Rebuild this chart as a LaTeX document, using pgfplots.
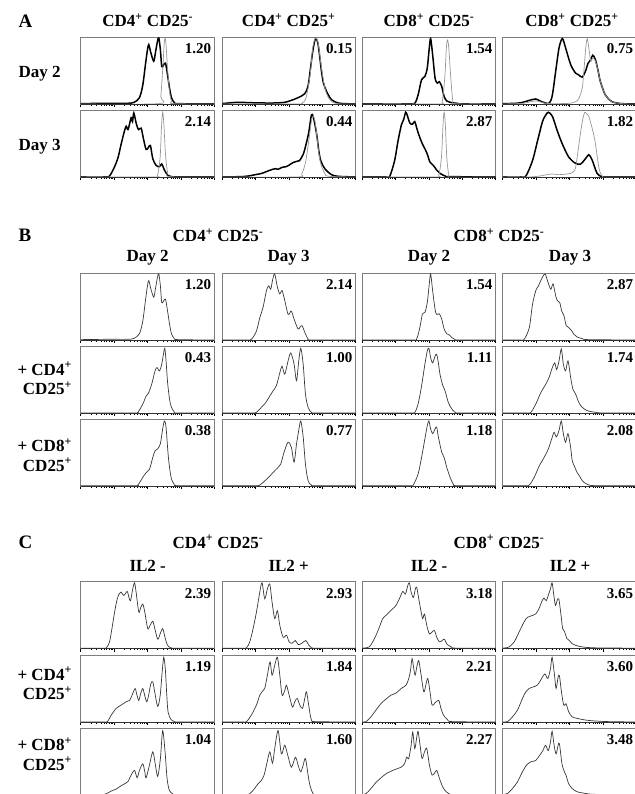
\documentclass[border=0pt]{standalone}
\usepackage{fontspec}
\setmainfont{Liberation Serif}
\usepackage{pgfplots}
\pgfplotsset{compat=1.18}

\definecolor{framegray}{RGB}{125,125,125}
\definecolor{ctlgray}{RGB}{150,150,150}
\definecolor{thingray}{RGB}{55,55,55}

\newcommand{\su}[1]{\textsuperscript{#1}}
\newcommand{\val}[1]{\node[val, anchor=base east, xshift=-3pt, yshift=-16.5pt] at (rel axis cs:1,1) {#1};}

\tikzset{
  lab/.style={font=\fontsize{17}{19.5}\selectfont\bfseries, inner sep=0pt},
  let/.style={font=\fontsize{19}{19}\selectfont\bfseries, inner sep=0pt},
  val/.style={font=\fontsize{15}{15}\selectfont\bfseries, inner sep=0pt},
}

\pgfplotsset{
  hist/.style={
    anchor=north west, scale only axis,
    width=133.5pt, height=67pt,
    xmin=0, xmax=100, ymin=0, ymax=101,
    ytick=\empty,
    xtick={0,25,50,75,100},
    minor xtick={7.53,11.93,15.05,17.47,19.45,21.13,22.58,23.86,
                 32.53,36.93,40.05,42.47,44.45,46.13,47.58,48.86,
                 57.53,61.93,65.05,67.47,69.45,71.13,72.58,73.86,
                 82.53,86.93,90.05,92.47,94.45,96.13,97.58,98.86},
    xticklabels={}, xtick pos=left, tick align=outside,
    major tick length=3pt, minor tick length=1.5pt,
    tick style={black, line width=0.5pt},
    axis line style={framegray, line width=1pt},
    after end axis/.code={\draw[black!80, line width=0.8pt] (rel axis cs:0,0) -- (rel axis cs:1,0);},
  },
  trt/.style={black, line width=1.5pt, smooth, tension=0.5, no marks},
  ctl/.style={ctlgray, line width=0.7pt, smooth, tension=0.5, no marks},
  one/.style={thingray, line width=0.7pt, smooth, tension=0.5, no marks},
}

\begin{document}
\begin{tikzpicture}

% ---------------- panel A ----------------
\node[let, anchor=base west] at (18.3pt,-27.3pt) {A};
\node[lab, anchor=base] at (147.7pt,-26.7pt) {CD4\su{+} CD25\su{-}};
\node[lab, anchor=base] at (288.7pt,-26.7pt) {CD4\su{+} CD25\su{+}};
\node[lab, anchor=base] at (429pt,-26.7pt) {CD8\su{+} CD25\su{-}};
\node[lab, anchor=base] at (572pt,-26.7pt) {CD8\su{+} CD25\su{+}};
\node[lab, anchor=base west] at (18.3pt,-77.3pt) {Day 2};
\node[lab, anchor=base west] at (18.3pt,-151pt) {Day 3};

% day 2
\begin{axis}[hist, at={(80.7pt,-37.3pt)}]
\addplot[trt] coordinates {(0,1) (20,1.5) (35,1.5) (40,3) (44,10) (46.5,29) (48.5,60) (50,82) (51,90) (52.5,78) (54.7,65) (56,78) (57.5,95) (58.5,100) (59.7,82) (60.7,57) (62,59) (63.5,62) (65,45) (66.5,25) (68,10) (70,3) (73,1) (100,0.5)};
\addplot[ctl] coordinates {(0,0.5) (58.5,1) (60,12) (61.5,55) (62.5,90) (63.2,100) (64,88) (65,55) (66.5,20) (68,4) (69.5,1) (100,0.5)};
\val{1.20}
\end{axis}
\begin{axis}[hist, at={(222pt,-37.3pt)}]
\addplot[trt] coordinates {(0,1) (5,2) (12,3) (20,2.5) (30,2) (40,2) (47,3) (52,6) (57,10) (62,16) (64.5,28) (66,50) (68,80) (70,99) (72,90) (74.5,50) (76,32) (78.4,19) (82,7) (87,2) (92,1) (100,0.5)};
\addplot[ctl] coordinates {(0,0.5) (55,0.5) (60,2) (63,10) (66,45) (68,85) (70,100) (72,92) (74.5,55) (77,25) (80,9) (84,2) (90,0.5) (100,0.5)};
\val{0.15}
\end{axis}
\begin{axis}[hist, at={(362pt,-37.3pt)}]
\addplot[trt] coordinates {(0,0.5) (35,0.5) (39.5,1.5) (42,14) (44.6,37) (47.1,42) (48.9,55) (50.4,85) (51.4,99) (52.9,75) (54.7,40) (56.4,32) (57.9,34) (59.7,27) (61.5,12) (63.5,5) (67.3,2.5) (71,1.5) (76,0.5) (100,0.5)};
\addplot[ctl] coordinates {(0,0.5) (58,0.5) (60,3) (62,40) (63.2,85) (64,97) (65,85) (66.5,40) (68,6) (70,1) (100,0.5)};
\val{1.54}
\end{axis}
\begin{axis}[hist, at={(502.7pt,-37.3pt)}]
\addplot[trt] coordinates {(0,1) (10,1.5) (15,3) (20,6) (24.8,8) (28,5) (32,2) (35,2) (37.2,14) (39.7,50) (42.2,85) (44.7,99) (47.1,85) (50.9,60) (54.6,47) (57.1,44) (59.6,41) (62,50) (64,62) (65.8,67) (67.5,74) (69.5,67) (71.5,50) (73.2,34) (76.9,14) (81.9,4) (89.3,1) (100,0.5)};
\addplot[ctl] coordinates {(0,0.5) (15,1.5) (24.8,5) (32,1.5) (40,1) (50,1.5) (54.6,4) (57.1,9) (59.6,25) (61,55) (62.2,85) (63.3,99) (64.5,85) (66,65) (67.5,70) (69.5,65) (71.5,50) (73.2,34) (76.9,14) (81.9,4) (89.3,1) (100,0.5)};
\val{0.75}
\end{axis}

% day 3
\begin{axis}[hist, at={(80.7pt,-110.3pt)}]
\addplot[trt] coordinates {(0,0.5) (18,0.5) (21.6,2) (25.4,16) (28,30) (30.3,50) (32.8,70) (34.1,77) (35.5,72) (37.8,90) (38.8,84) (39.8,97) (41.5,82) (43.3,72) (45.3,74) (47,58) (49,42) (50.7,45) (52.2,48) (54,28) (56.5,18) (59,16) (60.7,20) (62.7,11) (65.2,3) (67.7,1) (75,0.5) (100,0.5)};
\addplot[ctl] coordinates {(0,0.5) (55,0.5) (57.5,3) (59.5,30) (60.5,75) (61.4,98) (62.3,80) (63.5,35) (65,8) (67,1) (100,0.5)};
\val{2.14}
\end{axis}
\begin{axis}[hist, at={(222pt,-110.3pt)}]
\addplot[trt] coordinates {(0,0.5) (14,1) (20,2) (25,4) (30,6) (35,10) (39.8,13) (42,12) (45,15) (48,16) (50,18) (53,22) (56,24) (58,25) (60.9,35) (63,50) (65,68) (67,94) (68.5,90) (70.9,65) (72.5,40) (74,25) (77,13) (82,4) (87,1.5) (100,0.5)};
\addplot[ctl] coordinates {(0,0.5) (56,0.5) (59.7,5) (62.5,22) (65,55) (67,85) (68.4,92) (70,80) (72,45) (74,20) (77,6) (80,1.5) (100,0.5)};
\val{0.44}
\end{axis}
\begin{axis}[hist, at={(362pt,-110.3pt)}]
\addplot[trt] coordinates {(0,0.5) (18,0.5) (20.7,1) (24.4,25) (27,55) (29.5,79) (31.2,87) (32.7,98) (33.8,94) (35.8,82) (37.8,80) (39.5,84) (41.3,72) (43.3,60) (45.3,50) (47.1,43) (48.9,35) (50.9,23) (53.4,18) (55.9,11) (58.4,6) (62.2,2) (66,1) (100,0.5)};
\addplot[ctl] coordinates {(0,0.5) (55,0.5) (57.5,3) (59.5,30) (60.7,80) (61.5,98) (62.4,80) (63.5,30) (65,4) (67,0.5) (100,0.5)};
\val{2.87}
\end{axis}
\begin{axis}[hist, at={(502.7pt,-110.3pt)}]
\addplot[trt] coordinates {(0,0.5) (14,0.5) (17.4,2) (22.3,25) (26.1,55) (29.8,84) (32.3,94) (34.2,98) (37.2,92) (40.9,70) (44.7,50) (49.6,30) (54.6,21) (58.3,20) (62,28) (64.5,34) (67,26) (70.7,6) (74.4,1) (80,0.5) (100,0.5)};
\addplot[ctl] coordinates {(0,0.5) (20,0.5) (28,2) (33,4) (37.2,5) (42,4) (48,5) (52.1,7) (54.6,15) (57.1,50) (59.6,84) (61.5,98) (63,95) (64.5,92) (67.5,70) (69.5,50) (72,15) (74.4,2) (78,0.5) (100,0.5)};
\val{1.82}
\end{axis}

% ---------------- panel B ----------------
\node[let, anchor=base west] at (18.3pt,-241.7pt) {B};
\node[lab, anchor=base] at (218pt,-241.7pt) {CD4\su{+} CD25\su{-}};
\node[lab, anchor=base] at (499pt,-241.7pt) {CD8\su{+} CD25\su{-}};
\node[lab, anchor=base] at (147.7pt,-261pt) {Day 2};
\node[lab, anchor=base] at (288.7pt,-261pt) {Day 3};
\node[lab, anchor=base] at (429pt,-261pt) {Day 2};
\node[lab, anchor=base] at (570pt,-261pt) {Day 3};
\node[lab, align=right, anchor=east] at (72pt,-378.5pt) {+ CD4\su{+}\\CD25\su{+}};
\node[lab, align=right, anchor=east] at (72pt,-455pt) {+ CD8\su{+}\\CD25\su{+}};

% row 1
\begin{axis}[hist, at={(80.7pt,-273.3pt)}]
\addplot[one] coordinates {(0,1) (20,1.5) (35,1.5) (40,3) (44,10) (46.5,29) (48.5,60) (50,82) (51,90) (52.5,78) (54.7,65) (56,78) (57.5,95) (58.5,100) (59.7,82) (60.7,57) (62,59) (63.5,62) (65,45) (66.5,25) (68,10) (70,3) (73,1) (100,0.5)};
\val{1.20}
\end{axis}
\begin{axis}[hist, at={(222pt,-273.3pt)}]
\addplot[one] coordinates {(0,0.5) (18,0.5) (22,1.5) (25.8,14) (28.3,34) (30.8,50) (33.3,75) (35,82) (36.5,77) (38,92) (39.5,100) (41.5,80) (43.3,70) (45,75) (47,60) (49.5,39) (51,42) (52,44) (54.5,29) (57,17) (58.5,20) (60,22) (62,12) (64.5,2) (67,0.5) (100,0.5)};
\val{2.14}
\end{axis}
\begin{axis}[hist, at={(362pt,-273.3pt)}]
\addplot[one] coordinates {(0,0.5) (37,0.5) (40.8,1.5) (43.3,19) (45.3,40) (47.1,42) (48.9,57) (50.4,85) (51.4,100) (52.9,75) (54.7,47) (55.9,39) (57.9,40) (59.7,32) (61.5,17) (63.5,10) (65.5,8) (67.3,4) (69.8,1) (73,0.5) (100,0.5)};
\val{1.54}
\end{axis}
\begin{axis}[hist, at={(502.7pt,-273.3pt)}]
\addplot[one] coordinates {(0,0.5) (13,0.5) (16.1,1.5) (19.9,19) (22.3,54) (24.8,75) (26.8,82) (28.5,90) (30.3,97) (31.8,100) (33.5,90) (36,77) (37.7,85) (39.7,67) (40.9,60) (42.7,57) (44.2,44) (45.9,37) (47.6,22) (49.6,19) (51.6,15) (53.3,9) (55.8,5) (59.6,2.5) (64.5,1) (100,0.5)};
\val{2.87}
\end{axis}

% row 2
\begin{axis}[hist, at={(80.7pt,-346.3pt)}]
\addplot[one] coordinates {(0,0.5) (40,0.5) (42.8,1.5) (46.5,14) (49,26) (50.7,30) (53.2,44) (55.7,64) (57.2,69) (59,64) (60.7,74) (62.2,92) (63,98) (63.9,80) (65.2,44) (67.2,14) (70.1,2) (72.6,0.5) (100,0.5)};
\val{0.43}
\end{axis}
\begin{axis}[hist, at={(222pt,-346.3pt)}]
\addplot[one] coordinates {(0,0.5) (22,0.5) (25.8,1.5) (29.5,9) (32,14) (35.8,26) (38.3,34) (40.8,42) (43.3,61) (45,71) (47,59) (49.5,79) (51.5,91) (54,74) (55.8,49) (57.5,79) (59,98) (60.8,74) (62.5,29) (64.5,9) (67,1.5) (70,0.5) (100,0.5)};
\val{1.00}
\end{axis}
\begin{axis}[hist, at={(362pt,-346.3pt)}]
\addplot[one] coordinates {(0,0.5) (36,0.5) (39.5,1.5) (42,14) (44.6,41) (47.1,74) (48.9,94) (50.1,98) (51.4,84) (52.9,76) (54.7,86) (55.9,89) (57.2,76) (58.4,59) (60.5,42) (62.2,34) (64.7,16) (67.3,6.5) (69.8,1.5) (73,0.5) (100,0.5)};
\val{1.11}
\end{axis}
\begin{axis}[hist, at={(502.7pt,-346.3pt)}]
\addplot[one] coordinates {(0,0.5) (18,0.5) (21.1,1.5) (24.8,14) (28.5,31) (32.3,44) (34.7,54) (37.2,69) (39,76) (40.4,66) (42.2,79) (43.9,97) (45.4,74) (47.1,64) (48.9,79) (50.9,54) (52.6,36) (54.6,29) (57.1,16) (59.6,9) (63.3,4) (69.5,1.5) (75,0.5) (100,0.5)};
\val{1.74}
\end{axis}

% row 3
\begin{axis}[hist, at={(80.7pt,-419pt)}]
\addplot[one] coordinates {(0,0.5) (40,0.5) (42.8,1.5) (46.5,13) (49,20) (51.5,25) (54,43) (55.7,53) (57.7,56) (59.7,64) (61.4,86) (62.7,98) (63.9,89) (65.7,43) (67.7,13) (70.1,2.5) (72.6,0.5) (100,0.5)};
\val{0.38}
\end{axis}
\begin{axis}[hist, at={(222pt,-419pt)}]
\addplot[one] coordinates {(0,0.5) (25,0.5) (28.3,1.5) (32,7.6) (35.8,15) (39.5,23) (42,28) (44,33) (46.5,51) (49.5,66) (52,58) (54,36) (55.8,63) (57.5,84) (59,98) (60.8,74) (62.5,33) (64.5,8) (67,1.5) (70,0.5) (100,0.5)};
\val{0.77}
\end{axis}
\begin{axis}[hist, at={(362pt,-419pt)}]
\addplot[one] coordinates {(0,0.5) (35,0.5) (38.3,1.5) (42,18) (44.6,43) (47.1,71) (48.9,91) (50.1,98) (51.4,86) (52.9,79) (54.7,86) (55.9,89) (57.2,74) (59.7,51) (61.5,43) (63.5,28) (66,13) (68.5,2.5) (71,0.5) (100,0.5)};
\val{1.18}
\end{axis}
\begin{axis}[hist, at={(502.7pt,-419pt)}]
\addplot[one] coordinates {(0,0.5) (17,0.5) (19.9,1.5) (23.6,13) (27.3,30) (31,43) (34.2,56) (36.7,71) (38.5,81) (40.2,74) (42.2,84) (43.9,98) (45.4,79) (47.1,66) (48.9,79) (50.9,58) (52.1,38) (54.1,28) (55.8,20) (57.6,15) (59.6,8) (63.3,2.5) (69.5,0.5) (100,0.5)};
\val{2.08}
\end{axis}

% ---------------- panel C ----------------
\node[let, anchor=base west] at (18.3pt,-548.3pt) {C};
\node[lab, anchor=base] at (218pt,-548pt) {CD4\su{+} CD25\su{-}};
\node[lab, anchor=base] at (499pt,-548pt) {CD8\su{+} CD25\su{-}};
\node[lab, anchor=base] at (147.7pt,-571.5pt) {IL2 -};
\node[lab, anchor=base] at (288.7pt,-571.5pt) {IL2 +};
\node[lab, anchor=base] at (429pt,-571.5pt) {IL2 -};
\node[lab, anchor=base] at (570pt,-571.5pt) {IL2 +};
\node[lab, align=right, anchor=east] at (72pt,-683.5pt) {+ CD4\su{+}\\CD25\su{+}};
\node[lab, align=right, anchor=east] at (72pt,-754pt) {+ CD8\su{+}\\CD25\su{+}};

% row 1
\begin{axis}[hist, at={(80.7pt,-581.5pt)}]
\addplot[one] coordinates {(0,0.5) (16,0.5) (19.2,1) (21.6,10) (23.4,30) (25.4,55) (27.4,75) (29,83) (30.3,85) (32.3,80) (34.8,86) (36,78) (37.3,72) (38.8,88) (40.3,99) (41.5,85) (43.5,55) (45,62) (46.5,67) (48,55) (50.2,30) (52,35) (54,41) (55.5,30) (57.7,14) (59.5,22) (61.4,30) (63,18) (65,5) (67.7,1) (72,0.5) (100,0.5)};
\val{2.39}
\end{axis}
\begin{axis}[hist, at={(222pt,-581.5pt)}]
\addplot[one] coordinates {(0,0.5) (15,0.5) (18.3,1) (20.8,10) (23.3,30) (25.8,55) (28.3,85) (30,99) (32,75) (34,90) (35.8,97) (37.5,70) (39.5,45) (41.5,57) (43.3,35) (45.8,17) (48.3,20) (50.3,10) (52.5,8) (55,12) (57,6) (59.5,7.5) (62.8,12) (65,5) (67,1) (72,0.5) (100,0.5)};
\val{2.93}
\end{axis}
\begin{axis}[hist, at={(362pt,-581.5pt)}]
\addplot[one] coordinates {(0,0.5) (3,1) (5.5,2.5) (8,10) (10.5,20) (13,32) (15.5,45) (18,50) (20.5,55) (23,60) (25.5,65) (28,75) (30.5,86) (32.5,82) (34.3,95) (35.5,99) (36.8,85) (38.5,77) (40,90) (41,92) (42.5,75) (44.3,55) (45.5,45) (46.8,52) (48.5,35) (50.5,22) (52.5,25) (54.3,27) (56,17) (58,10) (60,12) (61.8,14) (63.5,7) (66.8,2.5) (70.5,0.5) (100,0.5)};
\val{3.18}
\end{axis}
\begin{axis}[hist, at={(502.7pt,-581.5pt)}]
\addplot[one] coordinates {(0,0.5) (2,1) (4.9,2.5) (8.6,10) (12.3,25) (16,40) (18.5,47) (21,49) (24.7,52) (27.2,60) (29.1,70) (30.9,76) (32.6,72) (34.1,80) (35.8,90) (37,99) (38.3,80) (39.5,65) (40.7,72) (42,75) (43.7,50) (44.9,30) (46.4,25) (48.1,15) (49.9,12) (51.9,7.5) (54.3,5) (59.3,2.5) (69.1,1) (100,0.5)};
\val{3.65}
\end{axis}

% row 2
\begin{axis}[hist, at={(80.7pt,-655.3pt)}]
\addplot[one] coordinates {(0,0.5) (16,0.5) (19.9,1) (22.9,11) (26.6,21) (30.3,26) (34.1,31) (36.6,33) (39.1,44) (40.8,51) (42,42) (43.5,33) (45,44) (46.5,51) (48,40) (49.5,31) (51,42) (52.5,58) (54,61) (55.5,45) (57.7,24) (59.5,40) (61,75) (62.2,98) (63.4,80) (64.5,40) (65.5,15) (67.7,4) (70.1,1) (74,0.5) (100,0.5)};
\val{1.19}
\end{axis}
\begin{axis}[hist, at={(222pt,-655.3pt)}]
\addplot[one] coordinates {(0,0.5) (15,0.5) (18.3,1) (22,11) (25.8,26) (28.3,41) (30,46) (32,51) (34,71) (36,91) (37.5,71) (39.5,86) (41.5,98) (43.3,71) (45,41) (47,48) (48.3,56) (50.3,41) (52.8,23) (54.5,31) (56.3,36) (58.3,26) (60.3,21) (62,36) (63.3,46) (65,25) (67,3.5) (70.8,1) (100,0.5)};
\val{1.84}
\end{axis}
\begin{axis}[hist, at={(362pt,-655.3pt)}]
\addplot[one] coordinates {(0,0.5) (3,1) (6.8,8.5) (10.5,18.5) (14.3,28.5) (18,35) (21.8,41) (25.5,44) (29.3,51) (33,56) (35,66) (36.3,78) (37.5,96) (38.7,82) (39.8,71) (41.2,85) (42.5,93) (44,75) (46.3,46) (48,58) (49.3,66) (51,45) (52.5,26) (55,30) (57.5,33) (59,22) (61,11) (64.3,3.5) (68,1) (100,0.5)};
\val{2.21}
\end{axis}
\begin{axis}[hist, at={(502.7pt,-655.3pt)}]
\addplot[one] coordinates {(0,0.5) (3.7,1) (7.4,8.5) (11.1,18.5) (14.8,36) (17.3,46) (19.8,51) (25.9,56) (29.1,66) (31.6,73) (33.8,66) (35.8,81) (37,98) (38.8,71) (40,51) (41.5,68) (42.5,70) (44,46) (45.7,26) (47.4,28) (49.4,16) (51.9,8.5) (55.6,6) (61.7,3.5) (69.1,2) (80,1) (100,0.5)};
\val{3.60}
\end{axis}

% row 3
\begin{axis}[hist, at={(80.7pt,-728pt)}]
\addplot[one] coordinates {(0,0.5) (15,0.5) (19.2,2) (22.9,6) (26.6,9) (30.3,14) (33,17) (35.3,20) (37.8,30) (40.3,37) (42.3,26) (44,37) (46.5,47) (48,35) (49,26) (51.5,45) (54,65) (56,45) (57.7,28) (59.7,55) (61.4,97) (63.2,65) (64.7,25) (66.4,7) (68.9,2) (72,0.5) (100,0.5)};
\val{1.04}
\end{axis}
\begin{axis}[hist, at={(222pt,-728pt)}]
\addplot[one] coordinates {(0,0.5) (17,0.5) (20.8,2) (24.5,10) (27,17) (29.5,22) (31.5,30) (33.3,45) (35.8,65) (37.8,48) (39.5,70) (42,97) (44.5,62) (47,75) (49.5,58) (52,42) (55,57) (57,45) (59,35) (60.8,45) (62.5,55) (64.5,30) (65.8,15) (68.3,2) (72,0.5) (100,0.5)};
\val{1.60}
\end{axis}
\begin{axis}[hist, at={(362pt,-728pt)}]
\addplot[one] coordinates {(0,0.5) (3,2) (6.8,10) (10.5,19) (14.3,26) (18,32) (21.8,36) (25.5,39) (29.3,42) (31.8,47) (33.5,57) (35,55) (36.8,75) (38,95) (39.5,70) (41,87) (42,96) (43.5,75) (45,55) (46.8,65) (48.5,70) (50.5,45) (52.5,30) (54.3,33) (56,37) (58,25) (60.5,12) (63,5) (65.5,1.5) (70,0.5) (100,0.5)};
\val{2.27}
\end{axis}
\begin{axis}[hist, at={(502.7pt,-728pt)}]
\addplot[one] coordinates {(0,0.5) (3.7,2.5) (7.4,10) (11.1,20) (14.8,35) (17.8,45) (21,50) (24.7,52) (27.7,60) (30.1,67) (32.1,75) (34.1,67) (35.8,80) (37,96) (38.5,75) (40,62) (41.5,75) (42.5,77) (44.4,47) (46.2,35) (47.4,30) (49.4,17) (51.9,10) (55.6,5) (61.7,2.5) (69.1,1) (100,0.5)};
\val{3.48}
\end{axis}

\pgfresetboundingbox
\useasboundingbox (0pt,0pt) rectangle (634pt,-794pt);
\end{tikzpicture}
\end{document}
